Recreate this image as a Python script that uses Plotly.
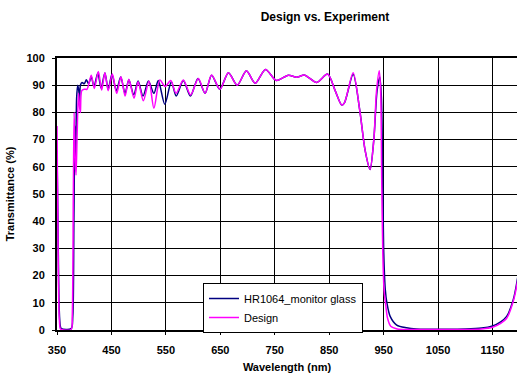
import plotly.graph_objects as go

# Experiment: HR1064_monitor glass
exp_wl = [350, 352, 354, 356, 358, 376, 379, 381, 383, 384.5, 386, 388, 390, 391.5, 393, 396,
          400, 404, 408, 413, 418, 425, 431, 438, 444, 451, 459, 467, 475, 482, 491, 499,
          508, 518, 528, 536, 548, 560, 569, 582, 595, 609, 622, 634, 649, 665, 681, 698,
          714, 733, 753, 775, 790, 805, 827, 847, 861, 873, 878, 894, 906, 916, 925, 932,
          938, 943, 946, 948, 950, 953, 956, 962, 974, 992, 1010, 1100, 1130, 1150, 1165,
          1176, 1188, 1196, 1200]
exp_T = [66, 35, 8, 1.5, 0.5, 0.5, 5, 40, 75, 62, 85, 90, 88, 84, 90, 91,
         90.5, 92, 90.5, 93, 89.5, 94.5, 89, 94.5, 88.5, 94, 88, 93, 87, 92, 86.5, 91.5,
         86, 91.5, 87, 91.7, 83, 91.3, 86, 91.7, 86, 92.5, 87, 93.7, 88.5, 94.6, 90, 95.3,
         90.7, 95.8, 91.7, 93.7, 92.9, 93.7, 91, 94.1, 88, 82.7, 83.5, 94, 81, 66, 59, 70,
         88, 93, 85, 60, 30, 15, 10, 5, 1.8, 0.8, 0.4, 0.4, 0.7, 1.5, 3,
         5, 11, 19, 25]

# Design
des_wl = [350, 352, 354, 356, 358, 376, 378, 380, 381.5, 383.5, 385, 387, 389.5, 391.5, 393,
          395.5, 400, 405, 409, 413, 418.6, 426, 432, 438, 444, 451.7, 459.6, 467.6, 475,
          482, 491.5, 499, 508.6, 519, 528, 539, 548.5, 559, 568.6, 582, 595.5, 609.6, 622,
          634, 649.5, 664.7, 681, 698, 714, 733, 753, 775, 790, 805, 827, 847, 861, 873,
          878, 894, 906, 916, 925, 932, 937, 942, 944.5, 946.5, 948.5, 951, 954, 957, 963,
          975, 993, 1010, 1100, 1130, 1150, 1165, 1176, 1188, 1196, 1200]
des_T = [75, 30, 5, 0.5, 0.2, 0.2, 5, 50, 80, 62, 57, 72, 87, 82, 80,
         88, 88.5, 88.5, 91, 93.7, 88.8, 95, 88.2, 94.6, 88, 94.1, 87, 93.1, 86,
         92.2, 85.2, 91.3, 84.3, 91.5, 81.5, 91.9, 89.5, 91.7, 87, 91.9, 86.4, 92.5, 87,
         93.75, 88.5, 94.6, 90, 95.3, 90.7, 95.8, 91.7, 93.7, 92.9, 93.7, 91, 94.1, 88, 82.7,
         83.5, 94.6, 80.9, 66, 59, 70, 88, 95.3, 88, 55, 28, 14, 9, 4.5, 1.4,
         0.4, 0.2, 0.2, 0.2, 0.4, 1.0, 2.4, 4.3, 10.5, 18, 24]

x_ticks = [350, 450, 550, 650, 750, 850, 950, 1050, 1150]
y_ticks = [0, 10, 20, 30, 40, 50, 60, 70, 80, 90, 100]

FONT = "Liberation Sans, Arial, sans-serif"

fig = go.Figure()
fig.add_trace(go.Scatter(x=exp_wl, y=exp_T, mode="lines", name="HR1064_monitor glass",
                         line=dict(color="#000080", width=1.5, shape="spline", smoothing=0.8)))
fig.add_trace(go.Scatter(x=des_wl, y=des_T, mode="lines", name="Design",
                         line=dict(color="#FF00FF", width=1.5, shape="spline", smoothing=0.8)))

fig.update_layout(
    width=517, height=379,
    margin=dict(l=57, r=0, t=58, b=49, autoexpand=False),
    paper_bgcolor="white", plot_bgcolor="white",
    font=dict(family=FONT, size=11, color="black"),
    title=dict(text="<b>Design vs. Experiment</b>", x=325/517, xanchor="center",
               y=1-17/379, yanchor="middle", font=dict(size=12, family=FONT)),
    showlegend=True,
    legend=dict(x=(203-57)/460, y=(330-283)/272, xanchor="left", yanchor="top",
                bordercolor="black", borderwidth=1, bgcolor="white", itemwidth=30,
                font=dict(size=11, family=FONT), tracegroupgap=2),
)
fig.update_xaxes(range=[350, 1195], tickvals=x_ticks, ticktext=[str(v) for v in x_ticks],
                 showgrid=True, gridcolor="black", gridwidth=1,
                 showline=True, linecolor="black", linewidth=2, mirror=True,
                 ticks="outside", ticklen=3, tickcolor="black", ticklabelstandoff=6,
                 tickfont=dict(size=11, family=FONT, weight="bold"), zeroline=False,
                 title=dict(text="<b>Wavelength (nm)</b>", standoff=8, font=dict(size=11)))
fig.update_yaxes(range=[0, 100], tickvals=y_ticks, ticktext=[str(v) for v in y_ticks],
                 showgrid=True, gridcolor="black", gridwidth=1,
                 showline=True, linecolor="black", linewidth=2,
                 ticks="outside", ticklen=3, tickcolor="black", ticklabelstandoff=5,
                 tickfont=dict(size=11, family=FONT, weight="bold"), zeroline=False,
                 title=dict(text="<b>Transmittance (%)</b>", standoff=10, font=dict(size=11)))

fig.write_html("out.html", config={"displayModeBar": False},
               post_script="document.body.style.margin='0';")
